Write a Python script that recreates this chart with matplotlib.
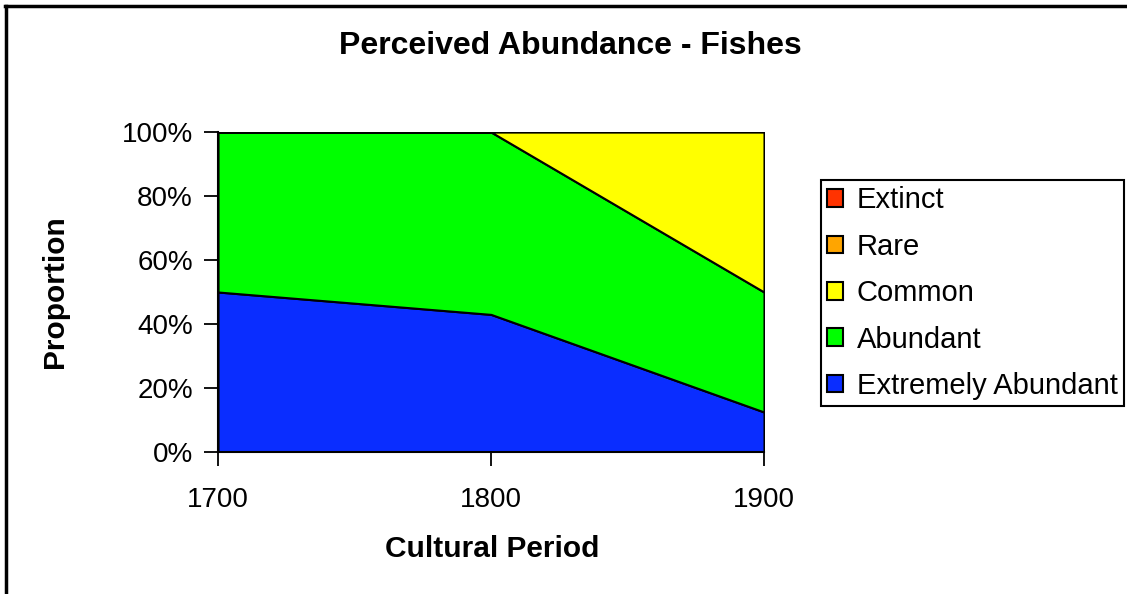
import matplotlib.pyplot as plt
from matplotlib.lines import Line2D
from matplotlib.ticker import FuncFormatter

plt.rcParams['font.family'] = ['Liberation Sans', 'DejaVu Sans']

periods = [1700, 1800, 1900]
extremely_abundant = [50, 43, 12.5]
abundant = [50, 57, 37.5]
common = [0, 0, 50]
rare = [0, 0, 0]
extinct = [0, 0, 0]

labels = ['Extremely Abundant', 'Abundant', 'Common', 'Rare', 'Extinct']
colors = ['#0a2dff', '#00ff00', '#ffff00', '#ffa500', '#ff3300']

W, H = 1127, 594
fig = plt.figure(figsize=(W / 100, H / 100), dpi=100)
ax = fig.add_axes([218 / W, 1 - 452 / H, (764 - 218) / W, (452 - 132) / H])

ax.stackplot(periods, extremely_abundant, abundant, common, rare, extinct,
             labels=labels, colors=colors, edgecolor='black', linewidth=1.5)

ax.set_xlim(1700, 1900)
ax.set_ylim(0, 100)
ax.set_xticks(periods)
ax.set_yticks([0, 20, 40, 60, 80, 100])
ax.yaxis.set_major_formatter(FuncFormatter(lambda v, p: f'{v:.0f}%'))
ax.tick_params(axis='both', direction='out', length=10, width=1.3, labelsize=20, colors='black')
ax.tick_params(axis='x', pad=15)
ax.tick_params(axis='y', pad=8)
ax.spines['top'].set_visible(False)
ax.spines['right'].set_visible(False)
for s in ['left', 'bottom']:
    ax.spines[s].set_linewidth(1.5)

fig.text(570 / W, 1 - 46 / H, 'Perceived Abundance - Fishes', fontsize=23,
         fontweight='bold', ha='center', va='center')
fig.text(492 / W, 1 - 549 / H, 'Cultural Period', fontsize=21.5,
         fontweight='bold', ha='center', va='center')
fig.text(55 / W, 1 - 292 / H, 'Proportion', fontsize=21.5, fontweight='bold',
         ha='center', va='center', rotation=90)

handles, lbls = ax.get_legend_handles_labels()
leg = ax.legend(handles[::-1], lbls[::-1], loc='upper left',
                bbox_to_anchor=(821 / W, 1 - 180 / H), bbox_transform=fig.transFigure,
                borderaxespad=0, fontsize=21, fancybox=False, edgecolor='black',
                handlelength=0.55, handleheight=0.55, handletextpad=0.45,
                labelspacing=0.63, borderpad=0.22, framealpha=1)
leg.get_frame().set_linewidth(1.5)
for p in leg.get_patches():
    p.set_linewidth(1.5)

# outer chart border (top and left visible)
fig.add_artist(Line2D([5 / W, 1], [1 - 6 / H, 1 - 6 / H], color='black', lw=2.5,
                      transform=fig.transFigure))
fig.add_artist(Line2D([6 / W, 6 / W], [0, 1 - 6 / H], color='black', lw=2.5,
                      transform=fig.transFigure))

fig.savefig('out.png', dpi=100)
